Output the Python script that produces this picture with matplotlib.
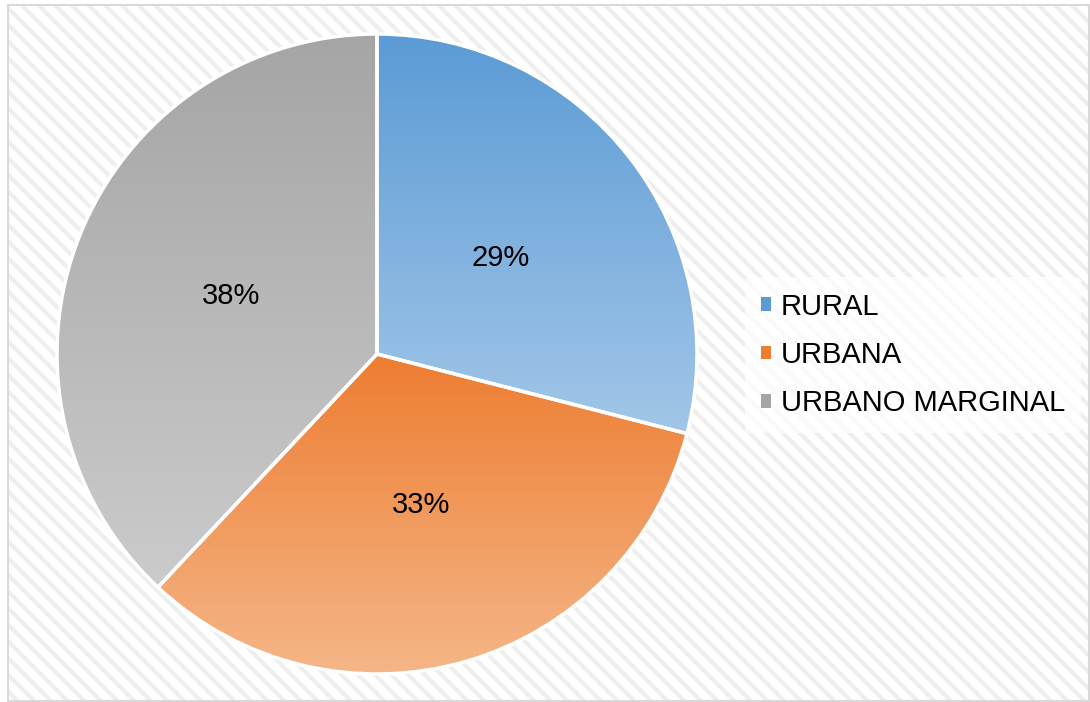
import matplotlib.pyplot as plt
import numpy as np
from matplotlib.colors import LinearSegmentedColormap
from matplotlib.patches import Patch, Rectangle

# datos del gráfico
categorias = ['RURAL', 'URBANA', 'URBANO MARGINAL']
valores = [29, 33, 38]
# degradado: color arriba, color abajo
colores_arriba = ['#5b9bd5', '#ed7d31', '#a5a5a5']
colores_abajo = ['#a2c6e8', '#f5b688', '#cbcbcb']

plt.rcParams['font.family'] = ['Liberation Sans', 'DejaVu Sans']
plt.rcParams['hatch.linewidth'] = 3.0

W, H = 1090, 702
fig = plt.figure(figsize=(W / 100, H / 100), dpi=100)

# fondo rayado y marco
fondo = Rectangle((8 / W, 0), 1 - 8 / W, 1 - 5 / H, transform=fig.transFigure,
                  facecolor='white', edgecolor='#eeeeee', hatch='\\\\', linewidth=0,
                  zorder=-2)
fig.add_artist(fondo)
marco = Rectangle((8 / W, 1 / H), 1 - 9 / W, 1 - 6 / H, transform=fig.transFigure,
                  facecolor='none', edgecolor='#d9d9d9', linewidth=1.5, zorder=-1)
fig.add_artist(marco)

# ejes cuadrados centrados en la torta
cx, cy, r_px = 377, 354, 320
lado = 2.0625 * r_px
ax = fig.add_axes([(cx - lado / 2) / W, (H - cy - lado / 2) / H, lado / W, lado / H])

wedges, textos, pcts = ax.pie(valores, startangle=90, counterclock=False,
                              colors=colores_arriba, autopct='%1.0f%%', pctdistance=0.49,
                              wedgeprops=dict(edgecolor='white', linewidth=2.5),
                              textprops=dict(fontsize=21, color='black'))

# relleno con degradado vertical recortado a cada sector
for w, c1, c2 in zip(wedges, colores_arriba, colores_abajo):
    t = np.radians(np.linspace(w.theta1, w.theta2, 200))
    xs = np.concatenate([[w.center[0]], w.center[0] + w.r * np.cos(t)])
    ys = np.concatenate([[w.center[1]], w.center[1] + w.r * np.sin(t)])
    cmap = LinearSegmentedColormap.from_list('g', [c1, c2])
    grad = np.linspace(0, 1, 256).reshape(-1, 1)
    im = ax.imshow(grad, cmap=cmap, aspect='auto', origin='upper',
                   extent=[xs.min(), xs.max(), ys.min(), ys.max()], zorder=1.5)
    im.set_clip_path(w)
    w.set_facecolor('none')
    w.set_zorder(2)

for p in pcts:
    p.set_zorder(3)

ax.set_xlim(-1.03125, 1.03125)
ax.set_ylim(-1.03125, 1.03125)
ax.set_aspect('equal')
ax.axis('off')

manejadores = [Patch(facecolor=c) for c in colores_arriba]
leg = fig.legend(manejadores, categorias, loc='center left',
                 bbox_to_anchor=(730 / W, 1 - 355 / H), bbox_transform=fig.transFigure,
                 fontsize=21, frameon=True, handlelength=0.35, handleheight=0.35,
                 handletextpad=0.35, labelspacing=0.7, borderpad=0.55)
leg.get_frame().set_facecolor('white')
leg.get_frame().set_alpha(0.75)
leg.get_frame().set_edgecolor('none')

fig.savefig('out.png', dpi=100)
